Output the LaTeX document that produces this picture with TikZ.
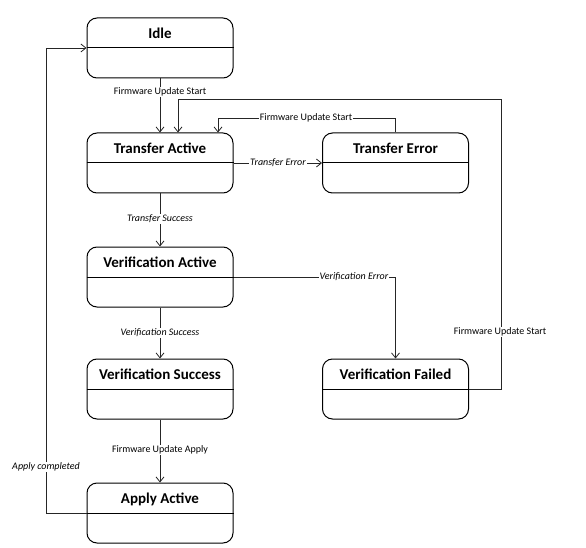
\documentclass[tikz,border=0pt]{standalone}
\usepackage{fontspec}
\setmainfont{Carlito}
\usetikzlibrary{arrows.meta,calc}
\begin{document}
\begin{tikzpicture}[x=1pt,y=-1pt,
  state/.style={draw=black, line width=1pt, rounded corners=10pt, minimum width=146pt, minimum height=60pt, inner sep=0pt},
  ttl/.style={font=\fontsize{15}{17}\selectfont\bfseries, inner sep=0pt, anchor=base},
  conn/.style={draw=black!85, line width=0.8pt, -{Straight Barb[length=5pt,width=8pt]}},
  lbl/.style={font=\fontsize{10}{12}\selectfont, fill=white, inner sep=1pt},
  ilbl/.style={lbl, font=\fontsize{10}{12}\selectfont\itshape}]
\useasboundingbox (0,0) rectangle (586,548);

% states
\node[state] (idle)  at (160,48)    {};
\node[state] (ta)    at (160,163)   {};
\node[state] (te)    at (395.5,163) {};
\node[state] (va)    at (160,277)   {};
\node[state] (vs)    at (160,389)   {};
\node[state] (vfail) at (395.5,389) {};
\node[state] (aa)    at (160,513)   {};

\foreach \s in {idle,ta,te,va,vs,vfail,aa}{
  \draw[line width=1pt] (\s.west) -- (\s.east);
}

\node[ttl] (tidle)  at ($(idle.center)+(0,-9.5)$)  {Idle};
\node[ttl] (tta)    at ($(ta.center)+(0,-9.5)$)    {Transfer Active};
\node[ttl] (tte)    at ($(te.center)+(0,-9.5)$)    {Transfer Error};
\node[ttl] (tva)    at ($(va.center)+(0,-9.5)$)    {Verification Active};
\node[ttl] (tvs)    at ($(vs.center)+(0,-9.5)$)    {Verification Success};
\node[ttl] (tvfail) at ($(vfail.center)+(0,-9.5)$) {Verification Failed};
\node[ttl] (taa)    at ($(aa.center)+(0,-9.5)$)    {Apply Active};

% connectors
\draw[conn] (idle.south) -- (ta.north);
\node[lbl] (l1) at (160,92) {Firmware Update Start};

\draw[conn] (vfail.east) -| (501,99) -| ($(ta.north)+(18,0)$);
\node[lbl] (l2) at (500,332) {Firmware Update Start};

\draw[conn] (te.north) -- ++(0,-14) -| ($(ta.north)+(58,0)$);
\node[lbl] (l3) at (306,118) {Firmware Update Start};

\draw[conn] (ta.east) -- (te.west);
\node[ilbl] (l4) at (278,163) {Transfer Error};

\draw[conn] (ta.south) -- (va.north);
\node[ilbl] (l5) at (160,219) {Transfer Success};

\draw[conn] (va.east) -| (vfail.north);
\node[ilbl] (l6) at (354,277) {Verification Error};

\draw[conn] (va.south) -- (vs.north);
\node[ilbl] (l7) at (160,333) {Verification Success};

\draw[conn] (vs.south) -- (aa.north);
\node[lbl] (l8) at (160,450) {Firmware Update Apply};

\draw[conn] (aa.west) -| (46,48) -- (idle.west);
\node[ilbl] (l9) at (46,467) {Apply completed};
\end{tikzpicture}
\end{document}
